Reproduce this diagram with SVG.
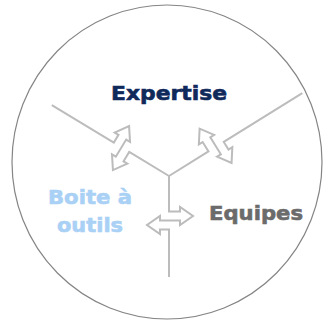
<svg xmlns="http://www.w3.org/2000/svg" width="323" height="321" viewBox="0 0 323 321">
<style>
.ring{fill:none;stroke:#858585;stroke-width:1.2}
.conn{fill:none;stroke:#bcbcbc;stroke-width:2;stroke-linejoin:miter}
.lbl{font-family:"DejaVu Sans","Liberation Sans",sans-serif;font-weight:bold;font-size:20px;stroke-width:0.6}
</style>
<rect width="323" height="321" fill="#ffffff"/>
<ellipse class="ring" cx="167" cy="162" rx="155" ry="157"/>
<g id="connectors">
<path class="conn" transform="translate(169,176) rotate(121.2)" d="M0,0 V46.5 H11 V42 L24,51 L11,60 V55.5 H-9 V51 L-22,60 L-9,69 V64.5 H0 V137"/>
<path class="conn" transform="translate(169,176) rotate(-121.9)" d="M0,0 V46.5 H11 V42 L24,51 L11,60 V55.5 H-9 V51 L-22,60 L-9,69 V64.5 H0 V157"/>
<path class="conn" transform="translate(169,176)" d="M0,0 V35.5 H11 V31 L24,40 L11,49 V44.5 H-9 V40 L-22,49 L-9,58 V53.5 H0 V101"/>
</g>
<g id="expertise">
<text class="lbl" x="111" y="100" fill="#10295b" stroke="#10295b" textLength="116" lengthAdjust="spacingAndGlyphs">Expertise</text>
</g>
<g id="boite-a-outils">
<text class="lbl" x="48" y="204" fill="#a9d0f5" stroke="#a9d0f5" textLength="84" lengthAdjust="spacingAndGlyphs">Boite à</text>
<text class="lbl" x="57" y="232" fill="#a9d0f5" stroke="#a9d0f5" textLength="66" lengthAdjust="spacingAndGlyphs">outils</text>
</g>
<g id="equipes">
<text class="lbl" x="209" y="220" fill="#6b6b6b" stroke="#6b6b6b" textLength="94" lengthAdjust="spacingAndGlyphs">Equipes</text>
</g>
</svg>
